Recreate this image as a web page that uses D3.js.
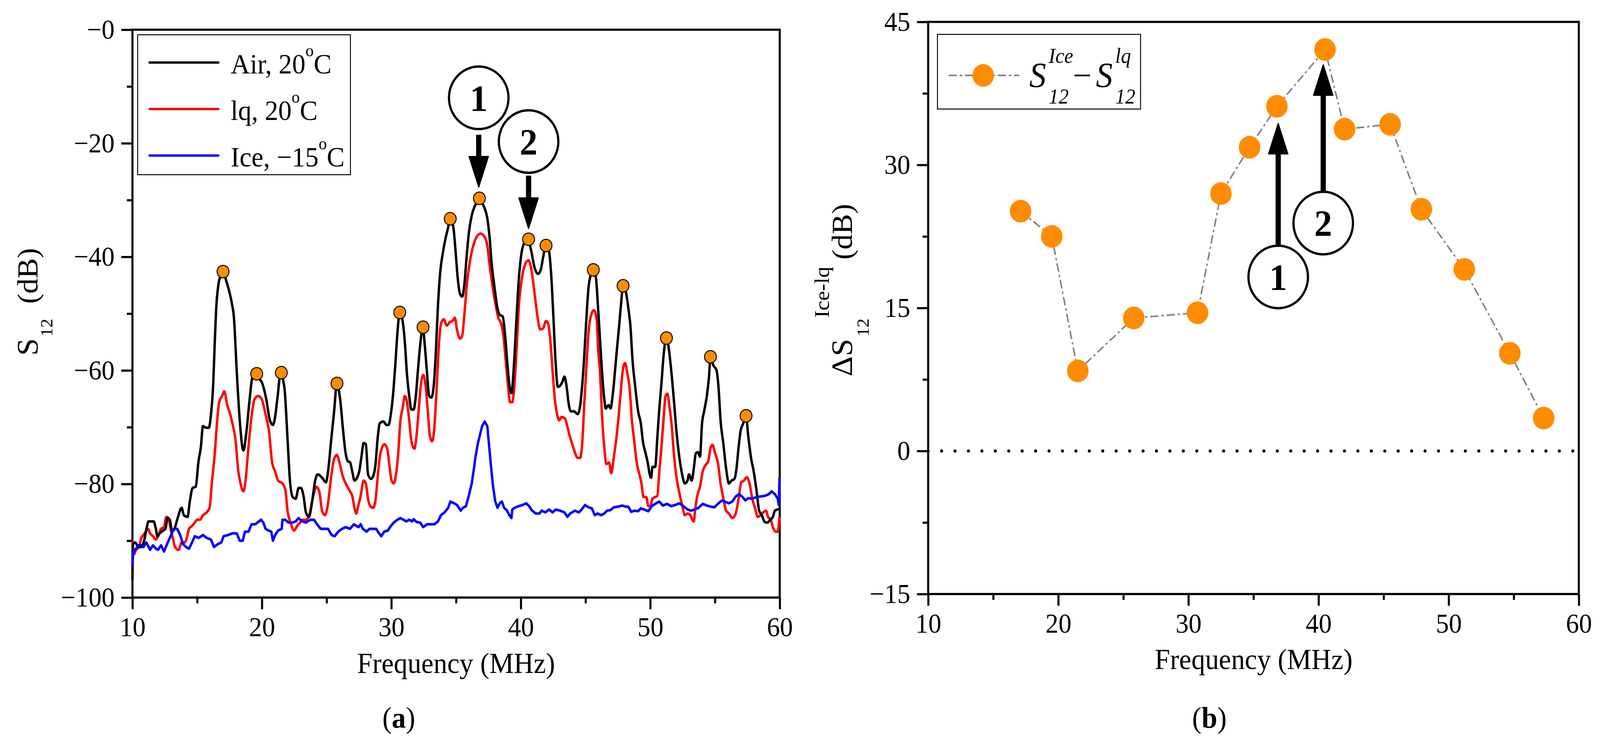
<!DOCTYPE html>
<html>
<head>
<meta charset="utf-8">
<script src="https://cdn.jsdelivr.net/npm/d3@7"></script>
<style>
html, body { margin: 0; padding: 0; background: #fff; overflow: hidden; }
svg { display: block; width: 100vw; height: 100vh; font-family: "Liberation Serif", serif; }
</style>
</head>
<body>
<script>

// ---- data ----
var freqTicks = [10, 20, 30, 40, 50, 60];
var freqMinor = [15, 25, 35, 45, 55];
var s12Ticks = [0, -20, -40, -60, -80, -100];
var s12Labels = ['\u22120', '\u221220', '\u221240', '\u221260', '\u221280', '\u2212100'];
var s12Minor = [-10, -30, -50, -70, -90];
var deltaTicks = [45, 30, 15, 0, -15];
var deltaLabels = ['45', '30', '15', '0', '\u221215'];
var deltaMinor = [37.5, 22.5, 7.5, -7.5];

// [frequency MHz, S12 dB]
var airTrace = [[10.0,-96.9],[10.05,-90.6],[10.22,-90.3],[10.45,-91.1],[10.68,-91.1],[10.9,-90.0],[11.13,-87.4],[11.24,-86.6],[11.47,-86.6],[11.64,-86.6],[11.81,-87.9],[11.93,-89.2],[12.1,-88.7],[12.38,-88.2],[12.55,-87.9],[12.72,-86.0],[12.89,-86.3],[13.06,-88.4],[13.29,-87.6],[13.52,-85.8],[13.8,-84.2],[13.97,-85.5],[14.26,-85.8],[14.43,-83.1],[14.65,-80.7],[14.88,-80.5],[15.11,-75.9],[15.28,-73.6],[15.45,-69.8],[15.68,-70.1],[15.9,-70.1],[16.07,-67.7],[16.24,-62.4],[16.36,-55.0],[16.47,-49.1],[16.64,-44.9],[16.81,-43.3],[16.98,-42.8],[17.27,-44.4],[17.67,-48.1],[17.84,-50.7],[18.06,-60.3],[18.29,-68.8],[18.57,-74.1],[18.8,-70.9],[19.03,-65.6],[19.26,-61.3],[19.43,-60.8],[19.62,-60.6],[19.77,-61.3],[20.05,-62.4],[20.34,-65.1],[20.62,-68.8],[20.85,-69.6],[21.02,-68.2],[21.19,-65.1],[21.45,-60.5],[21.59,-61.3],[21.76,-63.5],[21.98,-72.0],[22.15,-78.9],[22.38,-82.3],[22.61,-82.6],[22.84,-80.7],[23.01,-80.7],[23.23,-82.3],[23.4,-85.0],[23.63,-85.8],[23.91,-82.6],[24.09,-79.7],[24.31,-78.3],[24.65,-78.9],[24.94,-79.7],[25.11,-77.8],[25.34,-72.5],[25.56,-67.7],[25.79,-62.5],[26.07,-65.6],[26.24,-69.8],[26.47,-74.6],[26.64,-76.0],[26.81,-76.2],[26.98,-77.8],[27.15,-79.4],[27.35,-78.9],[27.52,-77.8],[27.69,-75.2],[27.86,-72.8],[28.03,-73.0],[28.2,-78.3],[28.43,-79.1],[28.6,-78.6],[28.77,-76.7],[28.94,-72.0],[29.11,-69.3],[29.39,-69.0],[29.62,-69.6],[29.79,-69.6],[29.96,-67.7],[30.13,-64.3],[30.3,-59.2],[30.47,-53.4],[30.64,-49.8],[30.87,-51.3],[31.04,-55.0],[31.21,-60.8],[31.38,-64.5],[31.55,-66.9],[31.72,-66.9],[31.89,-64.5],[32.06,-59.8],[32.23,-55.5],[32.43,-52.4],[32.58,-55.5],[32.75,-60.3],[32.92,-64.5],[33.09,-64.8],[33.26,-63.0],[33.43,-57.1],[33.6,-48.6],[33.77,-42.8],[34.0,-39.0],[34.22,-36.4],[34.39,-34.8],[34.53,-33.2],[34.79,-34.8],[34.96,-39.0],[35.13,-43.8],[35.3,-46.5],[35.47,-47.0],[35.64,-44.9],[35.81,-40.1],[35.98,-35.9],[36.21,-32.7],[36.44,-31.1],[36.67,-30.1],[36.78,-29.7],[36.95,-30.3],[37.18,-31.3],[37.41,-33.2],[37.58,-36.4],[37.75,-41.2],[37.97,-45.4],[38.2,-49.1],[38.37,-50.2],[38.6,-50.5],[38.77,-53.4],[38.94,-58.2],[39.11,-62.4],[39.28,-64.0],[39.45,-59.8],[39.62,-52.8],[39.85,-43.8],[40.08,-39.0],[40.36,-37.2],[40.55,-36.9],[40.81,-39.0],[41.04,-41.7],[41.33,-43.0],[41.55,-42.2],[41.72,-40.1],[41.95,-38.0],[42.18,-39.0],[42.35,-43.3],[42.52,-50.7],[42.69,-58.7],[42.86,-62.9],[43.03,-62.7],[43.2,-62.1],[43.37,-61.1],[43.54,-62.9],[43.71,-66.1],[43.88,-67.2],[44.11,-67.2],[44.39,-67.7],[44.59,-66.1],[44.75,-62.4],[44.91,-57.1],[45.07,-50.7],[45.23,-45.4],[45.39,-43.3],[45.63,-42.2],[45.81,-43.8],[45.97,-49.1],[46.13,-55.0],[46.29,-60.8],[46.45,-65.1],[46.56,-66.7],[46.77,-66.1],[46.93,-66.7],[47.09,-64.5],[47.25,-60.8],[47.41,-56.6],[47.57,-52.8],[47.73,-48.6],[47.92,-45.0],[48.1,-46.0],[48.31,-49.1],[48.47,-52.3],[48.63,-58.2],[48.84,-62.9],[49.06,-67.2],[49.27,-69.3],[49.43,-72.5],[49.64,-74.6],[49.8,-76.2],[49.96,-78.3],[50.07,-78.9],[50.17,-77.0],[50.38,-77.0],[50.54,-72.0],[50.7,-66.7],[50.86,-62.4],[51.02,-57.6],[51.25,-54.2],[51.39,-55.5],[51.61,-59.8],[51.82,-65.1],[52.03,-70.9],[52.24,-75.2],[52.46,-78.3],[52.67,-79.9],[52.88,-79.4],[52.99,-78.3],[53.2,-79.4],[53.36,-77.3],[53.52,-74.6],[53.68,-74.4],[53.84,-75.2],[54.0,-69.3],[54.16,-67.2],[54.37,-64.5],[54.53,-61.3],[54.66,-57.5],[54.85,-59.0],[55.12,-60.0],[55.27,-62.9],[55.43,-68.8],[55.65,-73.0],[55.86,-77.3],[56.07,-79.9],[56.28,-79.4],[56.5,-79.1],[56.66,-77.3],[56.82,-73.6],[56.98,-70.6],[57.19,-69.3],[57.4,-68.0],[57.56,-71.4],[57.77,-75.2],[57.99,-77.8],[58.2,-81.0],[58.41,-84.7],[58.62,-85.5],[58.84,-86.7],[59.05,-86.8],[59.26,-86.3],[59.47,-85.8],[59.63,-84.7],[59.98,-84.4]];

var lqTrace = [[10.0,-90.0],[10.11,-92.4],[10.28,-91.6],[10.51,-91.1],[10.68,-89.5],[10.85,-89.0],[11.02,-88.4],[11.19,-87.9],[11.36,-88.7],[11.59,-89.2],[11.81,-89.8],[11.98,-89.2],[12.21,-87.9],[12.44,-87.6],[12.61,-85.8],[12.78,-86.0],[12.95,-87.9],[13.12,-89.5],[13.29,-91.1],[13.57,-91.6],[13.8,-90.3],[14.03,-90.3],[14.2,-89.5],[14.37,-87.9],[14.6,-87.4],[14.82,-86.8],[14.99,-86.3],[15.22,-86.3],[15.45,-85.5],[15.73,-85.0],[15.96,-84.2],[16.13,-79.9],[16.36,-74.6],[16.53,-69.3],[16.7,-65.6],[16.93,-64.5],[17.1,-63.7],[17.32,-66.1],[17.55,-67.7],[17.72,-69.3],[17.95,-72.0],[18.18,-77.8],[18.35,-79.9],[18.57,-81.3],[18.74,-79.4],[18.92,-74.6],[19.14,-69.3],[19.43,-65.1],[19.71,-64.5],[19.99,-65.1],[20.28,-67.7],[20.56,-70.9],[20.79,-76.2],[21.02,-77.8],[21.25,-79.4],[21.59,-79.9],[21.81,-81.0],[21.98,-84.7],[22.21,-86.8],[22.49,-88.2],[22.72,-87.4],[22.95,-86.8],[23.18,-86.3],[23.4,-86.3],[23.69,-85.2],[23.97,-82.1],[24.2,-80.5],[24.43,-81.3],[24.65,-84.7],[24.88,-85.5],[25.11,-83.4],[25.34,-78.9],[25.56,-75.7],[25.79,-74.9],[26.02,-76.5],[26.24,-78.6],[26.53,-80.2],[26.81,-81.3],[26.98,-82.1],[27.15,-84.2],[27.29,-85.2],[27.46,-83.7],[27.63,-82.1],[27.86,-79.4],[28.03,-79.9],[28.2,-82.6],[28.37,-83.9],[28.6,-84.2],[28.77,-82.9],[28.94,-78.9],[29.11,-75.2],[29.28,-73.6],[29.45,-73.0],[29.68,-73.8],[29.85,-76.7],[30.02,-79.4],[30.19,-79.9],[30.36,-78.3],[30.53,-74.6],[30.7,-68.8],[30.87,-66.7],[31.04,-64.5],[31.21,-65.6],[31.38,-68.8],[31.55,-72.5],[31.78,-73.8],[31.95,-71.4],[32.12,-66.7],[32.29,-62.4],[32.46,-60.8],[32.63,-62.4],[32.8,-66.7],[32.97,-71.4],[33.14,-72.5],[33.31,-70.4],[33.48,-64.0],[33.66,-56.0],[33.83,-51.8],[34.05,-51.0],[34.28,-52.1],[34.51,-51.5],[34.73,-51.3],[34.9,-50.7],[35.07,-52.8],[35.3,-54.4],[35.47,-53.9],[35.64,-50.2],[35.81,-45.4],[36.04,-41.2],[36.33,-38.0],[36.61,-36.4],[36.89,-35.9],[37.18,-36.4],[37.41,-38.0],[37.58,-41.2],[37.8,-44.9],[38.03,-48.1],[38.26,-50.7],[38.48,-51.8],[38.66,-53.9],[38.83,-58.2],[39.0,-62.4],[39.17,-65.6],[39.34,-65.6],[39.51,-62.4],[39.68,-56.0],[39.85,-48.6],[40.08,-43.8],[40.36,-41.2],[40.59,-40.6],[40.81,-42.2],[41.04,-46.0],[41.27,-50.2],[41.5,-52.8],[41.72,-52.6],[41.95,-51.3],[42.12,-51.8],[42.29,-55.0],[42.46,-60.3],[42.63,-65.1],[42.8,-67.7],[42.97,-68.8],[43.14,-68.2],[43.42,-68.5],[43.6,-69.9],[43.77,-71.5],[43.95,-72.8],[44.17,-74.4],[44.38,-75.4],[44.59,-75.4],[44.75,-72.5],[44.91,-65.6],[45.07,-59.2],[45.23,-53.4],[45.44,-50.2],[45.65,-49.4],[45.87,-51.3],[45.97,-56.0],[46.13,-60.8],[46.29,-68.8],[46.45,-73.6],[46.61,-76.5],[46.82,-76.2],[46.98,-78.1],[47.19,-75.2],[47.41,-71.4],[47.57,-67.7],[47.73,-63.5],[47.89,-59.8],[48.05,-58.7],[48.21,-60.3],[48.42,-63.5],[48.58,-68.8],[48.74,-72.0],[48.95,-76.2],[49.16,-78.3],[49.32,-79.9],[49.48,-82.3],[49.69,-82.3],[49.85,-83.9],[50.01,-83.9],[50.17,-82.6],[50.38,-82.3],[50.54,-82.1],[50.7,-77.8],[50.86,-73.6],[51.02,-68.8],[51.18,-64.5],[51.31,-64.1],[51.5,-66.7],[51.66,-69.8],[51.82,-74.6],[52.03,-78.9],[52.24,-81.5],[52.46,-83.7],[52.67,-85.5],[52.88,-85.2],[53.1,-85.5],[53.25,-86.3],[53.36,-86.6],[53.47,-84.5],[53.63,-82.1],[53.84,-80.5],[54.05,-77.8],[54.26,-76.7],[54.48,-76.0],[54.64,-73.8],[54.8,-73.1],[55.01,-74.6],[55.22,-76.2],[55.43,-79.9],[55.65,-82.6],[55.86,-84.7],[56.07,-85.2],[56.34,-86.0],[56.6,-85.2],[56.82,-82.6],[57.03,-79.7],[57.24,-79.4],[57.45,-78.8],[57.67,-79.9],[57.88,-82.6],[58.09,-84.2],[58.3,-85.8],[58.52,-85.5],[58.73,-85.0],[58.94,-84.7],[59.1,-85.8],[59.31,-86.3],[59.47,-87.6],[59.69,-88.4],[59.85,-88.4],[59.98,-85.8]];

var iceTrace = [[10.0,-94.3],[10.05,-92.1],[10.22,-91.6],[10.45,-90.8],[10.68,-90.8],[10.85,-91.1],[11.07,-90.3],[11.36,-91.6],[11.59,-90.8],[11.81,-91.4],[11.98,-91.6],[12.21,-90.8],[12.44,-91.9],[12.67,-90.6],[12.89,-89.5],[13.18,-87.9],[13.46,-87.9],[13.69,-89.0],[13.91,-90.6],[14.14,-91.1],[14.37,-91.4],[14.6,-90.3],[14.82,-89.2],[15.11,-89.5],[15.45,-89.0],[15.73,-89.5],[16.07,-89.8],[16.3,-91.1],[16.59,-90.6],[16.87,-90.3],[17.04,-89.2],[17.38,-89.0],[17.72,-88.7],[18.06,-88.7],[18.29,-90.0],[18.52,-90.0],[18.69,-88.4],[18.97,-88.4],[19.2,-87.1],[19.48,-87.1],[19.77,-86.6],[19.94,-86.3],[20.11,-86.8],[20.28,-87.9],[20.51,-88.2],[20.73,-88.4],[20.85,-90.0],[21.02,-89.0],[21.25,-88.2],[21.53,-87.9],[21.59,-86.3],[21.81,-86.3],[22.04,-86.8],[22.38,-86.8],[22.61,-86.6],[22.84,-86.0],[23.12,-86.6],[23.4,-86.8],[23.74,-86.3],[24.03,-86.3],[24.26,-87.1],[24.54,-87.9],[24.82,-87.9],[25.11,-87.9],[25.39,-89.0],[25.62,-89.2],[25.9,-88.4],[26.19,-87.9],[26.47,-87.6],[26.81,-87.9],[27.1,-87.1],[27.46,-87.6],[27.63,-87.1],[27.8,-87.9],[28.09,-88.4],[28.31,-87.9],[28.6,-87.9],[28.83,-87.9],[29.05,-88.7],[29.22,-89.2],[29.45,-88.4],[29.73,-88.2],[29.96,-87.4],[30.19,-86.8],[30.47,-86.3],[30.7,-86.0],[30.93,-86.3],[31.15,-86.6],[31.38,-86.3],[31.61,-86.6],[31.72,-86.2],[31.95,-86.7],[32.23,-86.8],[32.46,-87.6],[32.75,-87.1],[33.03,-87.1],[33.31,-87.1],[33.6,-86.6],[33.83,-85.5],[34.11,-85.0],[34.39,-84.2],[34.56,-83.1],[34.85,-83.4],[35.07,-83.7],[35.36,-84.7],[35.53,-84.2],[35.76,-83.9],[35.98,-82.1],[36.21,-79.9],[36.38,-77.3],[36.5,-75.2],[36.67,-73.0],[36.84,-71.4],[37.01,-69.8],[37.21,-69.0],[37.41,-69.8],[37.52,-72.5],[37.69,-76.7],[37.86,-80.5],[38.03,-83.1],[38.2,-84.2],[38.37,-83.4],[38.54,-83.1],[38.71,-84.2],[38.94,-84.7],[39.11,-85.5],[39.28,-86.0],[39.34,-84.5],[39.51,-84.2],[39.85,-83.9],[40.13,-83.7],[40.42,-83.4],[40.64,-83.9],[40.87,-84.7],[41.15,-85.2],[41.44,-85.2],[41.61,-84.7],[41.89,-85.0],[42.18,-84.5],[42.46,-85.0],[42.69,-84.5],[43.03,-84.7],[43.37,-85.0],[43.6,-85.8],[43.82,-85.2],[44.17,-84.7],[44.48,-85.0],[44.7,-84.5],[44.96,-83.7],[45.23,-84.1],[45.49,-84.3],[45.71,-85.5],[45.92,-85.2],[46.19,-85.5],[46.45,-85.2],[46.66,-84.7],[46.93,-84.6],[47.19,-84.1],[47.51,-84.0],[47.83,-83.8],[48.1,-84.0],[48.31,-84.0],[48.52,-84.9],[48.79,-84.7],[49.06,-84.8],[49.27,-84.3],[49.53,-84.5],[49.85,-84.8],[50.12,-83.9],[50.38,-83.5],[50.7,-83.1],[50.97,-83.8],[51.29,-83.5],[51.61,-83.9],[51.93,-83.7],[52.24,-83.4],[52.56,-83.9],[52.88,-84.5],[53.15,-84.7],[53.41,-84.5],[53.73,-84.2],[54.05,-83.5],[54.37,-83.8],[54.69,-84.0],[54.96,-84.1],[55.22,-83.5],[55.54,-82.9],[55.75,-83.1],[56.07,-83.4],[56.34,-83.1],[56.6,-82.2],[56.87,-81.8],[57.13,-82.3],[57.35,-82.9],[57.56,-82.5],[57.88,-82.6],[58.2,-82.3],[58.52,-82.2],[58.84,-82.1],[59.15,-81.8],[59.37,-81.3],[59.63,-81.8],[59.85,-82.6],[59.93,-83.7],[59.98,-78.9]];

// orange peak markers on the air trace
var peakFreq = [17.0, 19.6, 21.5, 25.8, 30.65, 32.45, 34.55, 36.8, 40.6, 41.95, 45.6, 47.9, 51.25, 54.65, 57.4];
var peakAir = [-42.6, -60.6, -60.4, -62.3, -49.8, -52.4, -33.3, -29.7, -36.9, -38.0, -42.3, -45.1, -54.3, -57.6, -68.0];

// panel (b): ice minus liquid difference at the peaks
var deltaFreq = [17.1, 19.5, 21.5, 25.8, 30.7, 32.5, 34.7, 36.8, 40.5, 42.0, 45.5, 47.9, 51.2, 54.7, 57.3];
var deltaIceLq = [25.15, 22.5, 8.4, 13.95, 14.5, 27.0, 31.85, 36.15, 42.1, 33.75, 34.25, 25.35, 19.05, 10.25, 3.45];

// numbered callouts (freq, circle centre, arrow start, arrow tip)
var calloutsA = [
  {label: '1', f: 36.75, c: -12.0, from: -18.5, tip: -27.7},
  {label: '2', f: 40.6, c: -19.7, from: -25.7, tip: -35.0}
];
var calloutsB = [
  {label: '1', f: 36.9, c: 18.25, from: 21.5, tip: 34.35},
  {label: '2', f: 40.36, c: 23.9, from: 27.25, tip: 40.5}
];

// ---- layout ----
var W = 4301, H = 1914;
var FONT = '"Liberation Serif", serif';
var ORANGE = '#ff8c00';

var svg = d3.select('body').append('svg')
            .attr('viewBox', '0 0 ' + W + ' ' + H)
            .attr('preserveAspectRatio', 'none')
            .attr('font-family', FONT)

svg.append('rect').attr('width', W).attr('height', H).attr('fill', '#fff')

var xA = d3.scaleLinear().domain([10, 60]).range([356, 2096])
var yA = d3.scaleLinear().domain([-100, 0]).range([1529, 76])
var xB = d3.scaleLinear().domain([10, 60]).range([2495, 4244])
var yB = d3.scaleLinear().domain([-15, 45]).range([1520, 56])

function drawAxes(x, y, yMajor, yMinor, yLabels){
  var g = svg.append('g')
  var x0 = x.range()[0], x1 = x.range()[1]
  var y0 = y.range()[0], y1 = y.range()[1]

  g.append('g')
    .attr('transform', 'translate(0,' + y0 + ')')
    .call(d3.axisBottom(x).tickValues(freqMinor).tickSize(15).tickFormat(''))
  g.append('g')
    .attr('transform', 'translate(0,' + y0 + ')')
    .call(d3.axisBottom(x).tickValues(freqTicks).tickSize(30).tickPadding(19).tickFormat(d3.format('d')))
  g.append('g')
    .attr('transform', 'translate(' + x0 + ',0)')
    .call(d3.axisLeft(y).tickValues(yMinor).tickSize(15).tickFormat(''))
  g.append('g')
    .attr('transform', 'translate(' + x0 + ',0)')
    .call(d3.axisLeft(y).tickValues(yMajor).tickSize(30).tickPadding(18)
      .tickFormat(function(d, i){ return yLabels[i] }))

  g.selectAll('.domain').remove()
  g.selectAll('.tick line').attr('stroke', '#000').attr('stroke-width', 5.5)
  g.selectAll('.tick text')
    .attr('font-size', 70)
    .attr('font-family', FONT)
    .attr('fill', '#000')

  // frame
  g.append('rect')
    .attr('x', x0).attr('y', y1)
    .attr('width', x1 - x0).attr('height', y0 - y1)
    .attr('fill', 'none')
    .attr('stroke', '#000')
    .attr('stroke-width', 5.5)
  return g
}

function drawCallouts(list, x, y){
  var g = svg.append('g')
  list.forEach(function(c){
    var cx = x(c.f)
    g.append('circle')
      .attr('cx', cx).attr('cy', y(c.c)).attr('r', 80)
      .attr('fill', '#fff').attr('stroke', '#000').attr('stroke-width', 6)
    g.append('text')
      .attr('x', cx).attr('y', y(c.c))
      .attr('dy', '0.35em')
      .attr('text-anchor', 'middle')
      .attr('font-size', 96)
      .attr('font-weight', 'bold')
      .text(c.label)
    var yFrom = y(c.from), yTip = y(c.tip)
    var dir = yTip > yFrom ? 1 : -1
    var headLen = 78, headW = 52
    var yBase = yTip - dir * headLen
    g.append('line')
      .attr('x1', cx).attr('x2', cx)
      .attr('y1', yFrom).attr('y2', yBase + dir * 4)
      .attr('stroke', '#000').attr('stroke-width', 14)
    g.append('path')
      .attr('d', 'M' + (cx - headW / 2) + ',' + yBase + 'L' + (cx + headW / 2) + ',' + yBase + 'L' + cx + ',' + yTip + 'Z')
      .attr('fill', '#000')
      .attr('stroke', '#000')
      .attr('stroke-width', 3)
      .attr('stroke-linejoin', 'round')
  })
}

// ================= panel (a) =================
drawAxes(xA, yA, s12Ticks, s12Minor, s12Labels)

var traceLine = d3.line()
  .x(function(d){ return xA(d[0]) })
  .y(function(d){ return yA(d[1]) })

var traces = [
  {data: lqTrace, color: '#ff0000', curve: d3.curveMonotoneX},
  {data: airTrace, color: '#000000', curve: d3.curveMonotoneX},
  {data: iceTrace, color: '#0000ff', curve: d3.curveLinear}
]
traces.forEach(function(t){
  svg.append('path')
    .datum(t.data)
    .attr('fill', 'none')
    .attr('stroke', t.color)
    .attr('stroke-width', 6.5)
    .attr('stroke-linejoin', 'round')
    .attr('d', traceLine.curve(t.curve))
})

svg.append('g').selectAll('circle')
  .data(peakFreq)
  .enter()
    .append('circle')
    .attr('cx', function(d){ return xA(d) })
    .attr('cy', function(d, i){ return yA(peakAir[i]) })
    .attr('r', 16)
    .attr('fill', ORANGE)
    .attr('stroke', '#000')
    .attr('stroke-width', 2.5)

drawCallouts(calloutsA, xA, yA)

// legend (a)
var legA = svg.append('g')
legA.append('rect')
  .attr('x', 370).attr('y', 89).attr('width', 572).attr('height', 358)
  .attr('fill', '#fff').attr('stroke', '#000').attr('stroke-width', 2.5)
var legItems = [
  {color: '#000000', text: 'Air, 20'},
  {color: '#ff0000', text: 'lq, 20'},
  {color: '#0000ff', text: 'Ice, \u221215'}
]
legItems.forEach(function(d, i){
  var ly = 160 + i * 119
  legA.append('line')
    .attr('x1', 402).attr('x2', 587).attr('y1', ly).attr('y2', ly)
    .attr('stroke', d.color).attr('stroke-width', 6).attr('stroke-linecap', 'round')
  var t = legA.append('text')
    .attr('x', 620).attr('y', ly + 28)
    .attr('font-size', 72)
  t.append('tspan').text(d.text)
  t.append('tspan').attr('font-size', 44).attr('dy', -44).text('o')
  t.append('tspan').attr('dy', 44).text('C')
})

// axis titles (a)
svg.append('text')
  .attr('x', 1226).attr('y', 1722)
  .attr('text-anchor', 'middle')
  .attr('font-size', 74)
  .text('Frequency (MHz)')

var ylabA = svg.append('text')
  .attr('transform', 'translate(101,910) rotate(-90)')
  .attr('font-size', 80)
ylabA.append('tspan').text('S')
ylabA.append('tspan').attr('font-size', 46).attr('dx', 4).attr('dy', 40).text('12')
ylabA.append('tspan').attr('font-size', 78).attr('dx', 38).attr('dy', -40).text('(dB)')

var capA = svg.append('text')
  .attr('x', 1072).attr('y', 1862)
  .attr('text-anchor', 'middle')
  .attr('font-size', 76)
capA.append('tspan').text('(')
capA.append('tspan').attr('font-weight', 'bold').text('a')
capA.append('tspan').text(')')

// ================= panel (b) =================
drawAxes(xB, yB, deltaTicks, deltaMinor, deltaLabels)

// zero reference
svg.append('line')
  .attr('x1', xB(10)).attr('x2', xB(60))
  .attr('y1', yB(0)).attr('y2', yB(0))
  .attr('stroke', '#000')
  .attr('stroke-width', 8)
  .attr('stroke-linecap', 'round')
  .attr('stroke-dasharray', '0.1 36')

var deltaLine = d3.line()
  .x(function(d){ return xB(d) })
  .y(function(d, i){ return yB(deltaIceLq[i]) })

svg.append('path')
  .datum(deltaFreq)
  .attr('fill', 'none')
  .attr('stroke', '#808080')
  .attr('stroke-width', 4)
  .attr('stroke-dasharray', '22 8 6 8')
  .attr('d', deltaLine)

svg.append('g').selectAll('circle')
  .data(deltaFreq)
  .enter()
    .append('circle')
    .attr('cx', function(d){ return xB(d) })
    .attr('cy', function(d, i){ return yB(deltaIceLq[i]) })
    .attr('r', 29)
    .attr('fill', ORANGE)

drawCallouts(calloutsB, xB, yB)

// legend (b)
var legB = svg.append('g')
legB.append('rect')
  .attr('x', 2520).attr('y', 88).attr('width', 546).attr('height', 191)
  .attr('fill', '#fff').attr('stroke', '#000').attr('stroke-width', 2.5)
legB.append('line')
  .attr('x1', 2550).attr('x2', 2740).attr('y1', 193).attr('y2', 193)
  .attr('stroke', '#808080').attr('stroke-width', 4).attr('stroke-dasharray', '22 8 6 8')
legB.append('circle')
  .attr('cx', 2643).attr('cy', 193).attr('r', 29).attr('fill', ORANGE)
var legBText = [
  {t: 'S', x: 2767, y: 223, s: 90, it: true},
  {t: 'Ice', x: 2819, y: 161, s: 54, it: true},
  {t: '12', x: 2819, y: 265, s: 54, it: true},
  {t: '\u2212', x: 2884, y: 223, s: 90, it: false},
  {t: 'S', x: 2946, y: 223, s: 90, it: true},
  {t: 'lq', x: 2998, y: 161, s: 54, it: true},
  {t: '12', x: 2998, y: 265, s: 54, it: true}
]
legBText.forEach(function(d){
  legB.append('text')
    .attr('x', d.x).attr('y', d.y)
    .attr('font-size', d.s)
    .attr('font-style', d.it ? 'italic' : 'normal')
    .text(d.t)
})

// axis titles (b)
svg.append('text')
  .attr('x', 3370).attr('y', 1712)
  .attr('text-anchor', 'middle')
  .attr('font-size', 74)
  .text('Frequency (MHz)')

var ylabB = svg.append('text')
  .attr('transform', 'translate(2290,963) rotate(-90)')
  .attr('font-size', 80)
ylabB.append('tspan').text('\u0394S')
ylabB.append('tspan').attr('font-size', 46).attr('dx', 6).attr('dy', 45).text('12')
ylabB.append('tspan').attr('font-size', 56).attr('dx', 2).attr('dy', -107).text('Ice-lq')
ylabB.append('tspan').attr('font-size', 78).attr('dx', 18).attr('dy', 62).text('(dB)')

var capB = svg.append('text')
  .attr('x', 3251).attr('y', 1862)
  .attr('text-anchor', 'middle')
  .attr('font-size', 76)
capB.append('tspan').text('(')
capB.append('tspan').attr('font-weight', 'bold').text('b')
capB.append('tspan').text(')')

</script>
</body>
</html>
